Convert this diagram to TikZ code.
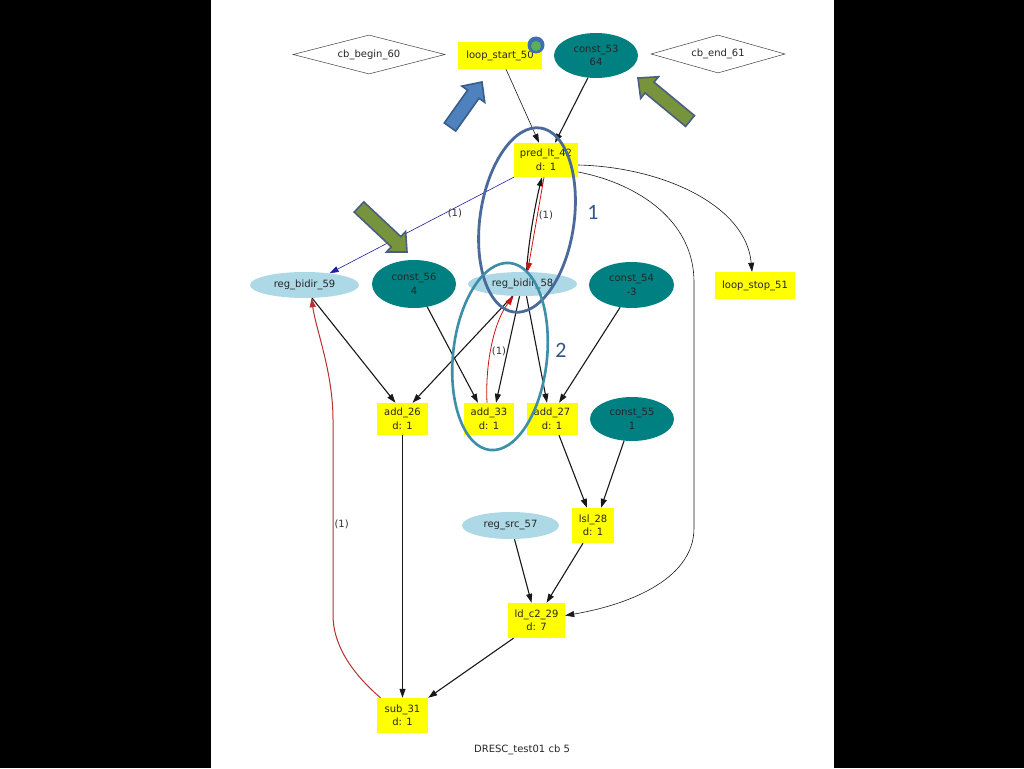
\documentclass[tikz,border=0pt]{standalone}
\usepackage{fontspec}
\setmainfont{DejaVu Sans}
\newfontfamily\annfont{Carlito}
\usetikzlibrary{shapes.geometric,arrows.meta,calc}
\definecolor{tealc}{HTML}{008080}
\definecolor{lightb}{HTML}{ADD8E6}
\definecolor{yel}{HTML}{FFFF00}
\definecolor{redc}{HTML}{D01010}
\definecolor{redd}{HTML}{B83030}
\definecolor{bluee}{HTML}{2020A0}
\definecolor{ringa}{HTML}{4A6A9C}
\definecolor{ringb}{HTML}{3D8EA8}
\definecolor{annc}{HTML}{34568B}
\definecolor{pptblue}{HTML}{4F81BD}
\definecolor{pptblueb}{HTML}{385D8A}
\definecolor{pptgreen}{HTML}{77933C}
\definecolor{pptgreenb}{HTML}{4A5F80}
\definecolor{iconblue}{HTML}{3D70B0}
\definecolor{icongreen}{HTML}{5FAE55}
\newcommand\myfatarrow[4]{%
  \coordinate (fah) at ($(#2)!15pt!(#1)$);
  \filldraw[fill=#3, draw=#4, line width=1.6pt, line join=miter]
    ($(#1)!7pt!90:(#2)$) -- ($(fah)!7pt!90:(#2)$) -- ($(fah)!14pt!90:(#2)$) -- (#2)
    -- ($(fah)!14pt!-90:(#2)$) -- ($(fah)!7pt!-90:(#2)$) -- ($(#1)!7pt!-90:(#2)$) -- cycle;}
\begin{document}
\begin{tikzpicture}[x=1pt,y=-1pt,
  base/.style={font=\fontsize{10}{13.5}\selectfont, text=black!85, align=center, inner sep=0pt},
  yrect/.style={base, rectangle, fill=yel},
  tealnode/.style={base, ellipse, fill=tealc},
  lbnode/.style={base, ellipse, fill=lightb},
  dia/.style={base, diamond, aspect=4, draw=black!75, line width=0.5pt, fill=white},
  lbl/.style={font=\fontsize{10}{12}\selectfont, text=black!80, inner sep=1pt},
  ann/.style={font=\annfont\fontsize{22}{24}\selectfont, text=annc, inner sep=0pt},
  edge/.style={draw=black!90, line width=1.1pt, -{Triangle[length=9pt,width=6pt]}},
  thinedge/.style={edge, line width=0.6pt},
  blueedge/.style={edge, draw=bluee, line width=0.6pt},
  rededge/.style={edge, draw=redc, line width=0.8pt},
  reddedge/.style={edge, draw=redd, line width=1pt},
  ring/.style={ellipse, fill=none, inner sep=0pt}]
\useasboundingbox (0,0) rectangle (1024,768);
\fill[black] (0,0) rectangle (1024,768);
\fill[white] (211,0) rectangle (834,768);

% nodes
\node[dia, minimum width=152pt, minimum height=39pt] (cbb) at (369,54.5) {cb\_begin\_60};
\node[dia, minimum width=134pt, minimum height=38pt] (cbe) at (718,54) {cb\_end\_61};
\node[yrect, minimum width=84pt, minimum height=27pt] (ls) at (500,55.5) {loop\_start\_50};
\node[tealnode, minimum width=84pt, minimum height=45pt] (c53) at (596,55.5) {const\_53\\64};
\node[yrect, minimum width=64pt, minimum height=34pt] (pred) at (546,160) {pred\_lt\_42\\d: 1};
\node[lbnode, minimum width=109pt, minimum height=26pt] (rb59) at (304.5,285) {reg\_bidir\_59};
\node[tealnode, minimum width=84pt, minimum height=48pt] (c56) at (414,284) {const\_56\\4};
\node[lbnode, minimum width=109pt, minimum height=24pt] (rb58) at (522.5,284) {reg\_bidir\_58};
\node[tealnode, minimum width=85pt, minimum height=46pt] (c54) at (631.5,285) {const\_54\\-3};
\node[yrect, minimum width=80pt, minimum height=27pt] (ls51) at (755,285.5) {loop\_stop\_51};
\node[yrect, minimum width=51pt, minimum height=32pt] (add26) at (402.5,419) {add\_26\\d: 1};
\node[yrect, minimum width=50pt, minimum height=32pt] (add33) at (489,419) {add\_33\\d: 1};
\node[yrect, minimum width=51pt, minimum height=32pt] (add27) at (552,419) {add\_27\\d: 1};
\node[tealnode, minimum width=84pt, minimum height=44pt] (c55) at (632,419) {const\_55\\1};
\node[lbnode, minimum width=97pt, minimum height=27pt] (rs57) at (510.5,525.5) {reg\_src\_57};
\node[yrect, minimum width=42pt, minimum height=35pt] (lsl28) at (593,525.5) {lsl\_28\\d: 1};
\node[yrect, minimum width=57pt, minimum height=35pt] (ld29) at (536.5,620.5) {ld\_c2\_29\\d: 7};
\node[yrect, minimum width=51pt, minimum height=35pt] (sub31) at (402.5,715.5) {sub\_31\\d: 1};
\node[base] (cap) at (522,750) {DRESC\_test01 cb 5};

% icon on loop_start_50
\node[circle, fill=iconblue, minimum size=17pt, inner sep=0pt] (icon) at (536,45) {};
\node[circle, fill=icongreen, minimum size=10pt, inner sep=0pt] (iconin) at (536,46) {};

% edges
\draw[thinedge] ([xshift=6pt]ls.south) -- ([xshift=-7pt]pred.north);
\draw[edge] (c53.250) -- ([xshift=9pt]pred.north);
\draw[blueedge] (pred.south west) -- node[pos=0.32, below, lbl] {(1)} (rb59.25);
\draw[thinedge] ([yshift=-5pt]pred.east) .. controls (662,167) and (746,205) .. ([xshift=-3pt]ls51.north);
\coordinate (w1) at (694,282);
\coordinate (w2) at (694,528);
\draw[thinedge] ([yshift=-12pt]pred.east) .. controls (640,184) and (694,222) .. (w1) -- (w2)
  .. controls (694,582) and (622,606) .. ([yshift=5pt]ld29.east);
\draw[edge] ([xshift=4pt]rb58.north) .. controls (528,245) and (535,205) .. ([xshift=-4pt]pred.south);
\draw[rededge] ([xshift=-2pt]pred.south) -- node[pos=0.4, anchor=west, lbl] {(1)} ([xshift=5pt]rb58.north);
\draw[edge] (rb59.300) -- ([xshift=-7pt]add26.north);
\draw[edge] (c56.300) -- ([xshift=-11pt]add33.north);
\draw[edge] ([xshift=-10pt]rb58.south) -- ([xshift=10pt]add26.north);
\draw[edge] ([xshift=-3pt]rb58.south) -- ([xshift=7pt]add33.north);
\draw[edge] ([xshift=4pt]rb58.south) -- ([xshift=-5pt]add27.north);
\draw[rededge] ([xshift=-2pt]add33.north) .. controls (485,360) and (495,320) .. node[pos=0.42, anchor=west, lbl] {(1)} ([xshift=-9pt]rb58.south);
\draw[edge] (c54.243) -- ([xshift=7pt]add27.north);
\draw[edge] ([xshift=7pt]add27.south) -- ([xshift=-6pt]lsl28.north);
\draw[edge] (c55.250) -- ([xshift=8pt]lsl28.north);
\draw[edge] ([xshift=4pt]rs57.south) -- ([xshift=-5pt]ld29.north);
\draw[edge] ([xshift=-10pt]lsl28.south) -- ([xshift=10pt]ld29.north);
\draw[edge] ([xshift=-23pt]ld29.south) -- (sub31.north east);
\draw[edge] (add26.south) -- (sub31.north);
\coordinate (w3) at (333,615);
\coordinate (w4) at (333,420);
\draw[reddedge] ([xshift=-22pt]sub31.north) .. controls (346,668) and (333,640) .. (w3)
  -- node[pos=0.467, anchor=west, lbl] {(1)} (w4)
  .. controls (333,372) and (316,330) .. ([xshift=7pt]rb59.south);

% annotation rings
\node[ring, draw=ringa, line width=2.8pt, minimum width=186pt, minimum height=94pt, rotate=81.7] (ring1) at (527,220) {};
\node[ring, draw=ringb, line width=2.6pt, minimum width=188pt, minimum height=94pt, rotate=83.9] (ring2) at (500,356.5) {};
\node[ann] (lab1) at (593,212) {1};
\node[ann] (lab2) at (561,350) {2};

% fat arrows
\coordinate (fa1t) at (450,127); \coordinate (fa1h) at (482,82);
\coordinate (fa2t) at (690,121); \coordinate (fa2h) at (638,78);
\coordinate (fa3t) at (359,207); \coordinate (fa3h) at (407,252);
\myfatarrow{fa1t}{fa1h}{pptblue}{pptblueb}
\myfatarrow{fa2t}{fa2h}{pptgreen}{pptgreenb}
\myfatarrow{fa3t}{fa3h}{pptgreen}{pptgreenb}
\end{tikzpicture}
\end{document}
